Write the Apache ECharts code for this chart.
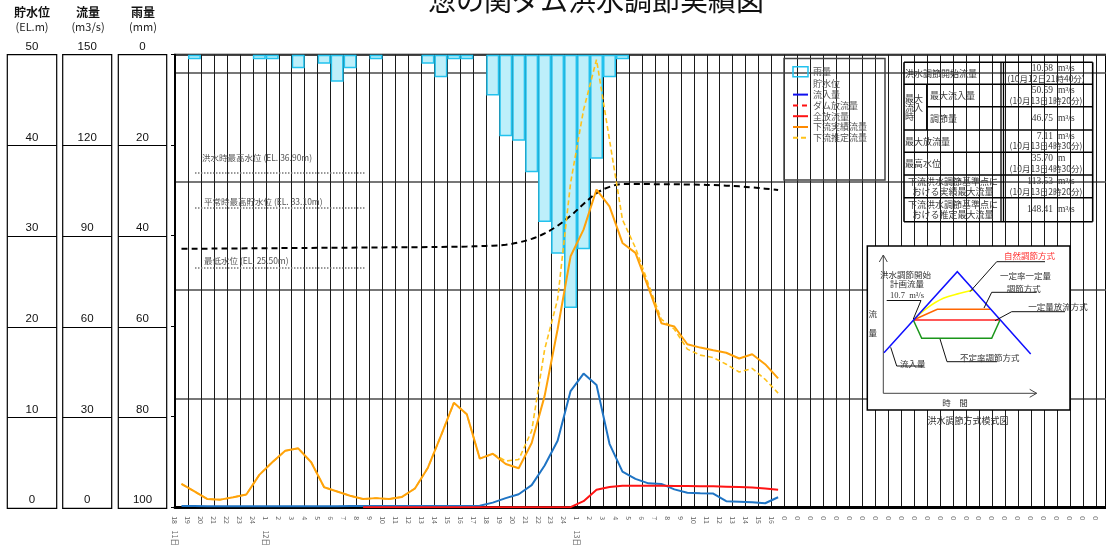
<!DOCTYPE html>
<html><head><meta charset="utf-8">
<script src="https://cdn.jsdelivr.net/npm/echarts@6/dist/echarts.min.js"></script>
<style>html,body{margin:0;padding:0;background:#fff}#c{width:1106px;height:549px}</style>
</head><body><div id="c"></div>
<script>
// ---------- data ----------
const hourLabels = ['18','19','20','21','22','23','24',
  '1','2','3','4','5','6','7','8','9','10','11','12','13','14','15','16','17','18','19','20','21','22','23','24',
  '1','2','3','4','5','6','7','8','9','10','11','12','13','14','15','16',
  '0','0','0','0','0','0','0','0','0','0','0','0','0','0','0','0','0','0','0','0','0','0','0','0','0'];
const dayTickIndex = [0, 7, 31];
const dayNames = ['11日', '12日', '13日'];
// hourly rainfall (mm) per hour interval
const rainfall = [0,1,0,0,0,0,1,1,0,3, 0,2,6,3,0,1,0,0,0,2, 5,1,1,0,9,18,19,26,37,44, 56,43,23,5,1];
// reservoir water level (EL.m)
const waterLevel = [28.55,28.56,28.57,28.58,28.59,28.6,28.61,28.62,28.63,28.64,
  28.65,28.66,28.67,28.68,28.69,28.7,28.71,28.72,28.73,28.74,
  28.76,28.78,28.8,28.85,28.9,29.0,29.25,29.65,30.25,31.1,
  32.2,33.5,34.7,35.4,35.7,35.7,35.7,35.69,35.68,35.66,
  35.63,35.59,35.53,35.45,35.33,35.2,35.05];
// inflow (m3/s)
const inflow = [0.4,0.4,0.3,0.3,0.3,0.3,0.3,0.3,0.3,0.3,
  0.3,0.3,0.3,0.4,0.4,0.4,0.4,0.4,0.4,0.4,
  0.4,0.4,0.4,0.5,1.5,3.0,4.3,7.3,13.8,22,
  38.5,44.3,40.5,21,11.8,9.4,7.9,7.7,5.9,4.8,
  4.6,4.5,2.0,1.8,1.6,1.3,3.3];
// dam release (m3/s) - not visible in the chart
const damRelease = [];
// total release (m3/s), starts at hour index 14
const totalReleaseStart = 14;
const totalRelease = [0,0,0,0,0,0,0,0,0,0,0,0,0,0,0,0,0,
  2.0,5.8,6.7,7.1,7.1,7.1,7.1,7.05,7.0,6.95,6.9,6.8,6.7,6.5,6.2,5.8];
// downstream actual flow (m3/s)
const downstreamActual = [7.7,5.2,2.7,2.5,3.3,4.2,10.7,14.9,18.7,19.5,
  14.9,6.6,5.2,3.8,2.7,3.0,2.7,3.4,6.2,13.1,
  23.6,34.6,30.8,16.1,17.7,14.3,12.9,21.3,36.9,59,
  83.2,92,105.3,99.7,87.6,84.3,72.8,61,59.9,54,
  52.9,52.0,51.2,49.3,50.7,47.4,42.7];
// downstream estimated flow (m3/s)
const downstreamEstimated = [7.7,5.2,2.7,2.5,3.3,4.2,10.7,14.9,18.7,19.5,
  14.9,6.6,5.2,3.8,2.7,3.0,2.7,3.4,6.2,13.1,
  23.6,34.6,30.8,16.1,17.7,15.3,15.8,25.3,52.3,68.9,
  107.5,131.7,148.4,121.8,95.3,86,74,62.3,59,52.4,
  50.4,49.6,47.4,44.8,46,42.4,37.8];
// reference water levels
const refLevels = [36.9, 33.1, 26.5];
const refNames = ['洪水時最高水位 (EL. 36.90m)', '平常時最高貯水位 (EL. 33.10m)', '最低水位 (EL. 25.50m)'];
const refStart = 1.54, refEnd = 14.65;
// summary table
const tableRows = [
  {label:['洪水調節開始流量'], value:'10.68', unit:'m³/s', time:'(10月12日21時40分)'},
  {label:['最大流入量'], value:'50.59', unit:'m³/s', time:'(10月13日1時20分)'},
  {label:['調節量'], value:'46.75', unit:'m³/s', time:''},
  {label:['最大放流量'], value:'7.11', unit:'m³/s', time:'(10月13日4時30分)'},
  {label:['最高水位'], value:'35.70', unit:'m', time:'(10月13日4時30分)'},
  {label:['下流洪水調節基準点に','おける実績最大流量'], value:'113.53', unit:'m³/s', time:'(10月13日2時20分)'},
  {label:['下流洪水調節基準点に','おける推定最大流量'], value:'148.41', unit:'m³/s', time:''}
];

// ---------- layout ----------
const FONT = '"Noto Sans CJK JP", "Noto Sans", sans-serif';
const PL = 175, PT = 54.7, PH = 453.6, STEP = 12.97;
const PW = 1106 - PL;
const XMAX = PW / STEP;
const pts = (arr, start) => arr.map((v, k) => [k + (start || 0) + 0.5, v]);

const boxes = [
  {left: 7.3, width: 49.4, min: 0, max: 50, interval: 10, inverse: false},
  {left: 62.7, width: 49, min: 0, max: 150, interval: 30, inverse: false},
  {left: 118.3, width: 48.4, min: 0, max: 100, interval: 20, inverse: true}
];

const grids = [{left: PL, top: PT, width: PW, height: PH, show: true, borderColor: '#000', borderWidth: 2, backgroundColor: 'transparent'}];
const xAxes = [
  {type:'value', gridIndex:0, min:0, max:XMAX, interval:1, position:'bottom',
   axisLine:{show:true, onZero:false, lineStyle:{color:'#000', width:3}},
   axisTick:{show:false},
   splitLine:{show:true, lineStyle:{color:'#1a1a1a', width:1}},
   axisLabel:{rotate:-90, margin:9, fontSize:7, color:'#666', fontFamily:FONT,
     formatter: v => { const i = Math.round(v); return (Math.abs(v - i) < 1e-6 && hourLabels[i] != null) ? hourLabels[i] : ''; }}},
  {type:'value', gridIndex:0, min:0, max:XMAX, interval:1, position:'bottom',
   axisLine:{show:false}, axisTick:{show:false}, splitLine:{show:false},
   axisLabel:{rotate:-90, margin:23, fontSize:7.5, color:'#666', fontFamily:FONT,
     formatter: v => { const i = Math.round(v); const p = dayTickIndex.indexOf(i); return (Math.abs(v - i) < 1e-6 && p >= 0) ? dayNames[p] : ''; }}}
];
const yAxes = [
  {type:'value', gridIndex:0, min:0, max:50, interval:10, position:'left',
   axisLine:{show:true, onZero:false, lineStyle:{color:'#000', width:2}},
   axisTick:{show:true, length:4, lineStyle:{color:'#000'}}, axisLabel:{show:false}, splitLine:{show:false}},
  {type:'value', gridIndex:0, min:0, max:50, interval:12, show:true,
   axisLine:{show:false}, axisTick:{show:false}, axisLabel:{show:false},
   splitLine:{show:true, lineStyle:{color:'#4a4a4a', width:1.5}}},
  {type:'value', gridIndex:0, min:0, max:150, interval:30, axisLine:{show:false}, axisTick:{show:false}, axisLabel:{show:false}, splitLine:{show:false}},
  {type:'value', gridIndex:0, min:0, max:100, interval:20, inverse:true, axisLine:{show:false}, axisTick:{show:false}, axisLabel:{show:false}, splitLine:{show:false}}
];
boxes.forEach((b, i) => {
  grids.push({left: b.left, top: PT, width: b.width, height: PH, show: true, borderColor: '#000', borderWidth: 1.2, backgroundColor:'transparent'});
  xAxes.push({type:'value', gridIndex: i + 1, show: false, min: 0, max: 1});
  yAxes.push({type:'value', gridIndex: i + 1, min: b.min, max: b.max, interval: b.interval, inverse: b.inverse, position:'left',
    axisLine:{show:false}, axisTick:{show:false},
    splitLine:{show:true, lineStyle:{color:'#000', width:1.2}},
    axisLabel:{inside:true, margin: b.width / 2, align:'center', verticalAlign:'bottom', padding:[0,0,2,0],
      fontSize:11.5, color:'#111', fontFamily:'"Liberation Sans", Arial, sans-serif', showMinLabel:true, showMaxLabel:true}});
});

// ---------- graphic helpers ----------
const G = [];
const ln = (x1, y1, x2, y2, c, w, z) => G.push({type:'line', z: z || 50, silent:true, shape:{x1, y1, x2, y2}, style:{stroke: c || '#000', lineWidth: w || 1}});
const tx = (x, y, s, o) => { o = o || {}; G.push({type:'text', z: o.z || 51, silent:true, x, y,
  style:{text: s, fill: o.color || '#333', fontSize: o.size || 9, fontFamily: o.font || FONT, fontWeight: o.weight || 'normal',
    align: o.align || 'left', verticalAlign: o.valign || 'middle'}}); };
const poly = (points, c, w, z, smooth) => G.push({type:'polyline', z: z || 52, silent:true, shape:{points, smooth: smooth || 0}, style:{stroke:c, lineWidth: w || 1.5, fill:null}});

// title
tx(596, 14, '惣の関ダム洪水調節実績図', {size:28, align:'center', valign:'bottom', color:'#111'});
// axis headers
[[32,'貯水位','(EL.m)'],[88,'流量','(m3/s)'],[143,'雨量','(mm)']].forEach(h => {
  tx(h[0], 12, h[1], {size:12, align:'center', color:'#111', weight:'bold'});
  tx(h[0], 27, h[2], {size:11, align:'center', color:'#222'});
});

// legend box
G.push({type:'rect', z:40, silent:true, shape:{x:784, y:58.5, width:101, height:121.5}, style:{stroke:'#444', lineWidth:1.5, fill:null}});

// summary table
const TX0 = 904, TX1 = 1092.7, TXD = 1001, TXM = 926.7;
const rowY = [62.3, 84.3, 106.7, 130, 152.3, 175, 197.7, 221.7];
ln(TX0, rowY[0], TX1, rowY[0], '#000', 1.6);
ln(TX0, rowY[7], TX1, rowY[7], '#000', 1.6);
ln(TX0, rowY[0], TX0, rowY[7], '#000', 1.6);
ln(TX1, rowY[0], TX1, rowY[7], '#000', 1.6);
ln(TXD, rowY[0], TXD, rowY[7], '#000', 1.3);
ln(TXD + 2.5, rowY[0], TXD + 2.5, rowY[7], '#000', 1.3);
[1,3,4,5,6].forEach(r => ln(TX0, rowY[r], TX1, rowY[r], '#000', 1.6));
ln(TXM, rowY[2], TX1, rowY[2], '#000', 1.6);
ln(TXM, rowY[1], TXM, rowY[3], '#000', 1.3);
const tcol = '#3a3a3a';
tx(905, 98.5, '最大', {color:tcol});
tx(905, 107.5, '流入', {color:tcol});
tx(905, 116.5, '時', {color:tcol});
tableRows.forEach((r, i) => {
  const y0 = rowY[i], y1 = rowY[i + 1], yc = (y0 + y1) / 2;
  const lx = (i === 1 || i === 2) ? 930 : 905;
  if (r.label.length === 1) tx(lx, yc, r.label[0], {color:tcol});
  else { tx(953, yc - 5, r.label[0], {color:tcol, align:'center'}); tx(953, yc + 5, r.label[1], {color:tcol, align:'center'}); }
  const vy = r.time ? yc - 5 : yc;
  tx(1053, vy, r.value, {color:tcol, size:9.5, align:'right', font:'"Liberation Serif", serif'});
  tx(1058, vy, r.unit, {color:tcol, size:9.5, font:'"Liberation Serif", serif'});
  if (r.time) tx(1046, yc + 5, r.time, {color:tcol, size:8.5, align:'center'});
});

// schematic inset
const IZ = 60;
G.push({type:'rect', z:IZ, silent:true, shape:{x:867.3, y:246, width:202.7, height:164}, style:{stroke:'#000', lineWidth:1.5, fill:'#fff'}});
ln(883.3, 393.3, 883.3, 255, '#444', 1, IZ+1); poly([[879.3,262],[883.3,255],[887.3,262]], '#444', 1, IZ+1);
ln(883.3, 393.3, 1036.7, 393.3, '#444', 1, IZ+1); poly([[1029.7,389.3],[1036.7,393.3],[1029.7,397.3]], '#444', 1, IZ+1);
poly([[884,352.7],[957.3,271.7],[1030.7,354]], '#1010ff', 1.5, IZ+3);
poly([[913.3,320],[926.7,308.3],[943.3,298.3],[960,293.3],[973.3,290]], '#ffff00', 1.5, IZ+2, 0.4);
poly([[913.3,320],[937.3,309.3],[990,309.3]], '#ff6600', 1.5, IZ+2);
poly([[913.3,320],[1000,320]], '#ff2020', 1.5, IZ+2);
poly([[913.3,320],[921.7,338.3],[991.7,338.3],[1000,320]], '#1a961a', 1.5, IZ+2);
// leaders
poly([[1045,261.7],[996.7,261.7],[970,291.7]], '#111', 1, IZ+4);
poly([[1036.7,292.3],[991.7,292.3],[984,308]], '#111', 1, IZ+4);
poly([[1065,311.7],[1011.7,311.7],[995,320.7]], '#111', 1, IZ+4);
poly([[886.7,300.5],[921,300.5],[913.3,319]], '#111', 1, IZ+4);
poly([[923.3,366],[896.7,366],[890.7,347.3]], '#111', 1, IZ+4);
poly([[997,361.7],[947,361.7],[940,339]], '#111', 1, IZ+4);
const ic = '#333';
tx(1004, 256, '自然調節方式', {size:8.5, color:'#ff3030', z:IZ+5});
tx(1000, 276, '一定率一定量', {size:8.5, color:ic, z:IZ+5});
tx(1006.7, 288.3, '調節方式', {size:8.5, color:ic, z:IZ+5});
tx(1028.3, 306.7, '一定量放流方式', {size:8.5, color:ic, z:IZ+5});
tx(880, 274.3, '洪水調節開始', {size:8.5, color:ic, z:IZ+5});
tx(890, 283.3, '計画流量', {size:8.5, color:ic, z:IZ+5});
tx(890, 296, '10.7  m³/s', {size:8.5, color:ic, z:IZ+5, font:'"Liberation Serif", serif'});
tx(900, 363.3, '流入量', {size:8.5, color:ic, z:IZ+5});
tx(960, 357.3, '不定率調節方式', {size:8.5, color:ic, z:IZ+5});
tx(872.7, 314, '流', {size:8.5, color:ic, align:'center', z:IZ+5});
tx(872.7, 332.7, '量', {size:8.5, color:ic, align:'center', z:IZ+5});
tx(955, 402.3, '時　間', {size:8.5, color:ic, align:'center', z:IZ+5});
tx(968, 421, '洪水調節方式模式図', {size:9, color:ic, align:'center', z:IZ+5});

// ---------- series ----------
const series = [
  {name:'雨量', type:'bar', xAxisIndex:0, yAxisIndex:3, barWidth: STEP, z:1,
   data: rainfall.map((v, k) => v > 0 ? [k + 0.5, v] : null).filter(Boolean),
   itemStyle:{color:'#bdeffa', borderColor:'#22c2ee', borderWidth:1.5}},
  {name:'貯水位', type:'line', xAxisIndex:0, yAxisIndex:0, symbol:'none', smooth:0.35, z:3,
   data: pts(waterLevel), lineStyle:{color:'#000', width:2, type:[6,4]}, itemStyle:{color:'#000'},
   markLine:{symbol:['none','none'], silent:true, animation:false,
     lineStyle:{type:'dotted', color:'#777', width:1.5},
     label:{position:'insideStartTop', color:'#555', fontSize:8.5, fontFamily:FONT},
     data: refLevels.map((v, i) => [
       {coord:[refStart, v], label:{formatter: refNames[i], distance: i === 0 ? [7, 11] : [9, 2]}},
       {coord:[refEnd, v]}])}},
  {name:'流入量', type:'line', xAxisIndex:0, yAxisIndex:2, symbol:'none', z:4,
   data: pts(inflow), lineStyle:{color:'#1f74c4', width:2}, itemStyle:{color:'#1010ee'}},
  {name:'ダム放流量', type:'line', xAxisIndex:0, yAxisIndex:2, symbol:'none', z:4,
   data: pts(damRelease), lineStyle:{color:'#ff1010', width:2, type:[5,4]}, itemStyle:{color:'#ff1010'}},
  {name:'全放流量', type:'line', xAxisIndex:0, yAxisIndex:2, symbol:'none', z:5,
   data: pts(totalRelease, totalReleaseStart), lineStyle:{color:'#ff1414', width:2}, itemStyle:{color:'#ff1414'}},
  {name:'下流推定流量', type:'line', xAxisIndex:0, yAxisIndex:2, symbol:'none', z:5,
   data: pts(downstreamEstimated), lineStyle:{color:'#ffc21a', width:1.6, type:[5,3]}, itemStyle:{color:'#ffc21a'}},
  {name:'下流実績流量', type:'line', xAxisIndex:0, yAxisIndex:2, symbol:'none', z:6,
   data: pts(downstreamActual), lineStyle:{color:'#ffa20a', width:2}, itemStyle:{color:'#ff8a00'}}
];

const hideSym = {opacity:0};
const chart = echarts.init(document.getElementById('c'), null, {renderer:'canvas'});
chart.setOption({
  animation:false,
  backgroundColor:'#fff',
  textStyle:{fontFamily:FONT},
  grid: grids, xAxis: xAxes, yAxis: yAxes,
  legend:{orient:'vertical', left:787, top:61, itemWidth:15, itemHeight:10, itemGap:1.8,
    textStyle:{fontSize:9, color:'#555', fontFamily:FONT},
    data:[
      {name:'雨量', icon:'rect', itemStyle:{color:'rgba(255,255,255,0)', borderColor:'#22c2ee', borderWidth:1.5}},
      {name:'貯水位', itemStyle:hideSym, lineStyle:{opacity:0}},
      {name:'流入量', itemStyle:hideSym, lineStyle:{color:'#1010ee'}},
      {name:'ダム放流量', itemStyle:hideSym},
      {name:'全放流量', itemStyle:hideSym},
      {name:'下流実績流量', itemStyle:hideSym, lineStyle:{color:'#ff8a00'}},
      {name:'下流推定流量', itemStyle:hideSym}]},
  graphic: G,
  series
});
</script></body></html>
